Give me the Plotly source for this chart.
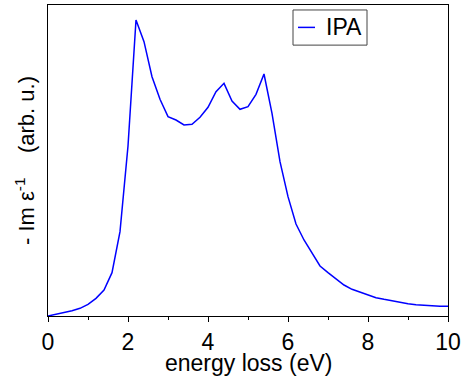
import plotly.graph_objects as go

energy = [0.0, 0.2, 0.4, 0.6, 0.8, 1.0, 1.2, 1.4, 1.6, 1.8, 2.0, 2.2, 2.4, 2.6, 2.8, 3.0,
          3.2, 3.4, 3.6, 3.8, 4.0, 4.2, 4.4, 4.6, 4.8, 5.0, 5.2, 5.4, 5.6, 5.8, 6.0,
          6.2, 6.4, 6.6, 6.8, 7.0, 7.2, 7.4, 7.6, 7.8, 8.0, 8.2, 8.4, 8.6, 8.8, 9.0,
          9.2, 9.4, 9.6, 9.8, 10.0]
loss = [0.00, 0.05, 0.10, 0.16, 0.23, 0.35, 0.53, 0.78, 1.30, 2.53, 5.10, 8.88, 8.23,
        7.18, 6.50, 5.98, 5.88, 5.73, 5.75, 5.96, 6.26, 6.73, 6.98, 6.45, 6.20, 6.28,
        6.65, 7.26, 6.08, 4.63, 3.58, 2.76, 2.28, 1.88, 1.50, 1.30, 1.12, 0.93, 0.80,
        0.71, 0.62, 0.55, 0.50, 0.45, 0.40, 0.37, 0.34, 0.32, 0.30, 0.29, 0.29]
series_name = "IPA"
x_title = "energy loss (eV)"
line_color = "#0000ff"

fig = go.Figure()
fig.add_trace(go.Scatter(x=energy, y=loss, mode="lines", name=series_name,
                         showlegend=False,
                         line=dict(color=line_color, width=1.5)))

# legend box drawn as a compact key (like the reference)
fig.add_shape(type="rect", xref="paper", yref="paper", x0=0.6125, x1=0.7975,
              y0=0.871, y1=0.984, line=dict(color="#444444", width=1),
              fillcolor="white", layer="above")
fig.add_shape(type="line", xref="paper", yref="paper", x0=0.625, x1=0.6675,
              y0=0.928, y1=0.928, line=dict(color=line_color, width=1.5), layer="above")
fig.add_annotation(text=series_name, xref="paper", yref="paper", x=0.69, y=0.928,
                   xanchor="left", yanchor="middle", showarrow=False,
                   font=dict(size=23, color="black"))
# x-axis title
fig.add_annotation(text=x_title, xref="paper", yref="paper", x=0.5, y=-0.106,
                   xanchor="center", yanchor="top", showarrow=False,
                   font=dict(size=23, color="black"), borderpad=0)

font = "Liberation Sans, Arial, sans-serif"
fig.update_layout(
    width=464, height=378,
    margin=dict(l=48, r=16, t=5, b=62),
    paper_bgcolor="white", plot_bgcolor="white",
    font=dict(family=font, color="black", size=22),
    showlegend=False,
    xaxis=dict(range=[0, 10], tickvals=[0, 2, 4, 6, 8, 10], ticks="outside",
               ticklen=5, tickwidth=1, tickcolor="black",
               minor=dict(tickvals=[1, 3, 5, 7, 9], ticks="outside", ticklen=3,
                          tickcolor="black", tickwidth=1),
               showgrid=False, zeroline=False, showline=True, linecolor="black",
               linewidth=1, mirror=True, automargin=False,
               tickfont=dict(size=23)),
    yaxis=dict(range=[0, 9.33], showticklabels=False, ticks="", showgrid=False,
               zeroline=False, showline=True, linecolor="black", linewidth=1,
               mirror=True, automargin=False,
               title=dict(text="- Im ε<sup>-1</sup>\u00a0\u00a0\u00a0\u00a0(arb. u.)",
                          font=dict(size=22), standoff=6)),
)

fig.write_html("out.html")
